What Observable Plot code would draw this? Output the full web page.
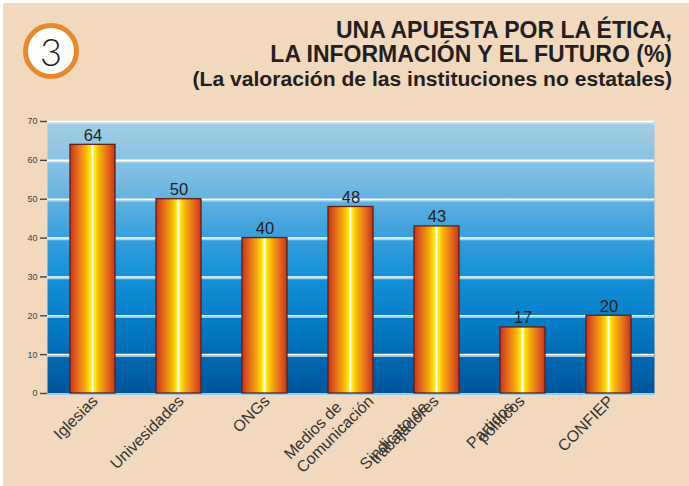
<!DOCTYPE html>
<html>
<head>
<meta charset="utf-8">
<script src="https://cdn.jsdelivr.net/npm/d3@7"></script>
<script src="https://cdn.jsdelivr.net/npm/@observablehq/plot@0.6"></script>
<style>
  html, body { margin: 0; padding: 0; background: #fff; }
  #page {
    position: relative; width: 689px; height: 486px; overflow: hidden;
    background: #f2d8bc; box-shadow: inset 3px 3px 0 #fff;
    font-family: "Liberation Sans", Arial, sans-serif; color: #231f20;
  }
  #badge {
    position: absolute; left: 23px; top: 23px; width: 56px; height: 56px;
    box-sizing: border-box; border: 5px solid #e8892f; border-radius: 50%;
    background: #fff; display: flex; align-items: center; justify-content: center;
    font-family: Lato, "Open Sans", sans-serif; font-weight: 300; font-size: 38px; line-height: 1;
    color: #231f20; z-index: 2;
  }
  .t { position: absolute; right: 17px; white-space: nowrap; font-weight: bold; line-height: 1; z-index: 2; }
  #t1 { top: 18.8px; font-size: 23px; }
  #t2 { top: 43.2px; font-size: 23px; }
  #t3 { top: 67.8px; font-size: 21.1px; }
  #chart { position: absolute; left: 0; top: 0; }
</style>
</head>
<body>
<div id="page">
  <div id="badge">3</div>
  <div class="t" id="t1">UNA APUESTA POR LA ÉTICA,</div>
  <div class="t" id="t2">LA INFORMACIÓN Y EL FUTURO (%)</div>
  <div class="t" id="t3">(La valoración de las instituciones no estatales)</div>
  <div id="chart"></div>
</div>
<script>
const categories = ["Iglesias", "Univesidades", "ONGs", "Medios de Comunicación", "Sindicato de trabajadores", "Partidos políticos", "CONFIEP"];
const values = [64, 50, 40, 48, 43, 17, 20];
const labelLine1 = ["Iglesias", "Univesidades", "ONGs", "Medios de", "Sindicato de", "Partidos", "CONFIEP"];
const labelLine2 = ["", "", "", "Comunicación", "trabajadores", "políticos", ""];
const yTicks = [0, 10, 20, 30, 40, 50, 60, 70];

const rows = categories.map((c, i) => ({cat: c, value: values[i], l1: labelLine1[i], l2: labelLine2[i]}));
const singles = rows.filter(d => !d.l2);
const multi = rows.filter(d => d.l2);
const wide = multi.filter(d => d.cat === "Medios de Comunicación");
const tight = multi.filter(d => d.cat !== "Medios de Comunicación");

const defs = () => {
  const g = d3.create("svg:defs");
  const bg = g.append("linearGradient").attr("id", "bgGrad").attr("x1", 0).attr("y1", 0).attr("x2", 0).attr("y2", 1);
  [[0, "#a4cee3"], [0.2, "#7cbde3"], [0.4, "#3ea2dd"], [0.55, "#1892d9"], [0.7, "#0982cd"], [0.85, "#006bb5"], [1, "#00559b"]]
    .forEach(([o, c]) => bg.append("stop").attr("offset", o).attr("stop-color", c));
  const bar = g.append("linearGradient").attr("id", "barGrad").attr("x1", 0).attr("y1", 0).attr("x2", 1).attr("y2", 0);
  [[0, "#c9341d"], [0.18, "#e6701a"], [0.34, "#f4ad0c"], [0.45, "#ffe600"], [0.485, "#fff7a0"], [0.5, "#ffffff"], [0.515, "#fff7a0"], [0.55, "#ffe600"], [0.66, "#f4ad0c"], [0.82, "#e6701a"], [1, "#c9341d"]]
    .forEach(([o, c]) => bar.append("stop").attr("offset", o).attr("stop-color", c));
  return g.node();
};

const plot = Plot.plot({
  width: 689,
  height: 486,
  marginTop: 121,
  marginBottom: 93,
  marginLeft: 47,
  marginRight: 35,
  style: {background: "transparent", fontFamily: "Liberation Sans, Arial, sans-serif", overflow: "visible"},
  x: {domain: categories, paddingInner: 0.48, paddingOuter: 0.24, axis: null},
  y: {domain: [0, 70], axis: null},
  marks: [
    defs,
    Plot.frame({fill: "url(#bgGrad)", stroke: null}),
    Plot.ruleY(yTicks.filter(d => d > 0), {stroke: "#d6ecf8", strokeOpacity: 0.7, strokeWidth: 1.5, dy: 1.5}),
    Plot.ruleY(yTicks.filter(d => d > 0), {stroke: "#ffffff", strokeWidth: 1.6}),
    Plot.ruleY([0], {stroke: "#9ccbea", strokeWidth: 2, dy: 0.5}),
    Plot.axisY({ticks: yTicks, label: null, tickSize: 7, tickPadding: 3, fontSize: 9, color: "#444", strokeWidth: 1.4}),
    Plot.barY(rows, {x: "cat", y: "value", fill: "url(#barGrad)", stroke: "#5e1f10", strokeWidth: 1.3}),
    Plot.text(rows, {x: "cat", y: "value", text: d => String(d.value), lineAnchor: "bottom", dy: -4, fontSize: 16.5, fill: "#231f20"}),
    Plot.text(singles, {x: "cat", y: () => 0, text: "l1", rotate: -45, textAnchor: "end", dx: 2, dy: 5, fontSize: 16, fill: "#333"}),
    Plot.text(multi, {x: "cat", y: () => 0, text: "l1", rotate: -45, textAnchor: "end", dx: -12, dy: 11, fontSize: 16, fill: "#333"}),
    Plot.text(tight, {x: "cat", y: () => 0, text: "l2", rotate: -45, textAnchor: "end", dx: -1, dy: 5, fontSize: 16, fill: "#333"}),
    Plot.text(wide, {x: "cat", y: () => 0, text: "l2", rotate: -45, textAnchor: "end", dx: 20, dy: 5, fontSize: 16, fill: "#333"})
  ]
});
document.getElementById("chart").appendChild(plot);
</script>
</body>
</html>
